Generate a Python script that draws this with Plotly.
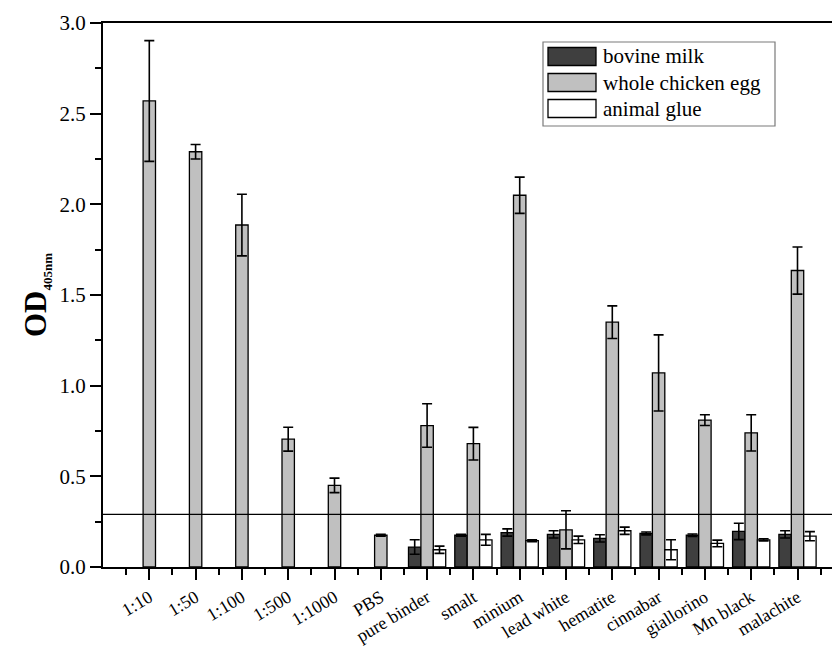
import plotly.graph_objects as go

# Sample groups along the x axis
categories = ["1:10", "1:50", "1:100", "1:500", "1:1000", "PBS",
              "pure binder", "smalt", "minium", "lead white", "hematite",
              "cinnabar", "giallorino", "Mn black", "malachite"]

# Mean OD405 per binder and its standard deviation (None = not measured)
bovine_milk = [None, None, None, None, None, None,
               0.11, 0.175, 0.19, 0.18, 0.158, 0.185, 0.175, 0.196, 0.18]
bovine_milk_err = [None, None, None, None, None, None,
                   0.04, 0.005, 0.02, 0.02, 0.02, 0.008, 0.007, 0.045, 0.02]

whole_egg = [2.57, 2.29, 1.886, 0.705, 0.45, 0.175,
             0.78, 0.68, 2.05, 0.205, 1.35, 1.07, 0.81, 0.74, 1.635]
whole_egg_err = [0.333, 0.04, 0.17, 0.066, 0.04, 0.005,
                 0.12, 0.09, 0.10, 0.105, 0.09, 0.21, 0.03, 0.10, 0.13]

animal_glue = [None, None, None, None, None, None,
               0.095, 0.15, 0.145, 0.15, 0.20, 0.095, 0.13, 0.15, 0.17]
animal_glue_err = [None, None, None, None, None, None,
                   0.02, 0.03, 0.005, 0.02, 0.02, 0.055, 0.018, 0.006, 0.025]

cutoff = 0.29

series = [
    ("bovine milk", bovine_milk, bovine_milk_err, "#3f3f3f"),
    ("whole chicken egg", whole_egg, whole_egg_err, "#c0c0c0"),
    ("animal glue", animal_glue, animal_glue_err, "#ffffff"),
]

xpos = list(range(1, len(categories) + 1))

FONT = "Liberation Serif"

fig = go.Figure()
for name, vals, errs, color in series:
    fig.add_trace(go.Bar(
        x=xpos, y=vals, name=name,
        marker=dict(color=color, line=dict(color="black", width=1.3)),
        error_y=dict(type="data", array=errs, visible=True,
                     color="black", thickness=1.6, width=5),
        showlegend=False,
    ))

# Detection threshold
fig.add_shape(type="line", xref="paper", x0=0, x1=1, yref="y",
              y0=cutoff, y1=cutoff, line=dict(color="black", width=1.3))

# Legend drawn as a framed box with wide swatches
plot_l, plot_w = 103, 729
plot_t, plot_b = 23, 567
plot_h = plot_b - plot_t


def px(xp):
    return (xp - plot_l) / plot_w


def py(yp):
    return (plot_b - yp) / plot_h


fig.add_shape(type="rect", xref="paper", yref="paper",
              x0=px(543), x1=px(775), y0=py(126), y1=py(42),
              line=dict(color="#7a7a7a", width=1.2), fillcolor="white",
              layer="above")
row_centers = [56.5, 82.5, 108.5]
for (name, _, _, color), yc in zip(series, row_centers):
    fig.add_shape(type="rect", xref="paper", yref="paper",
                  x0=px(548), x1=px(596), y0=py(yc + 9), y1=py(yc - 9),
                  line=dict(color="black", width=1.3), fillcolor=color,
                  layer="above")
    fig.add_annotation(xref="paper", yref="paper", x=px(601), y=py(yc),
                       text=name, showarrow=False, xanchor="left",
                       yanchor="middle",
                       font=dict(family=FONT, size=21, color="black"))

fig.update_layout(
    width=835, height=648,
    margin=dict(l=plot_l, r=835 - plot_l - plot_w, t=plot_t, b=648 - plot_b,
                autoexpand=False),
    paper_bgcolor="white", plot_bgcolor="white",
    barmode="group", bargap=0.196, bargroupgap=0,
    font=dict(family=FONT, size=21, color="black"),
)

fig.update_xaxes(
    range=[0, plot_w / 46.3], tickvals=xpos, ticktext=categories,
    tickangle=-31, ticks="outside", ticklen=11, tickwidth=1.8,
    tickcolor="black", showline=True, linecolor="black", linewidth=2,
    mirror=True, showgrid=False, zeroline=False, automargin=False,
    tickfont=dict(family=FONT, size=18, color="black"),
    minor=dict(tickvals=[i + 0.5 for i in range(0, len(categories) + 1)],
               ticks="outside", ticklen=6, tickwidth=1.8, tickcolor="black",
               showgrid=False),
)

fig.update_yaxes(
    range=[0, 3], dtick=0.5, tick0=0, tickformat=".1f",
    ticks="outside", ticklen=11, tickwidth=1.8, tickcolor="black",
    showline=True, linecolor="black", linewidth=2,
    showgrid=False, zeroline=False, automargin=False,
    tickfont=dict(family=FONT, size=21, color="black"),
    minor=dict(dtick=0.25, ticks="outside", ticklen=6, tickwidth=1.8,
               tickcolor="black", showgrid=False),
    title=dict(
        text="<b>OD<sub><span style=\"font-size:13px\">405nm</span></sub></b>",
        font=dict(family=FONT, size=31, color="black"), standoff=4),
)

fig.write_html("out.html")
